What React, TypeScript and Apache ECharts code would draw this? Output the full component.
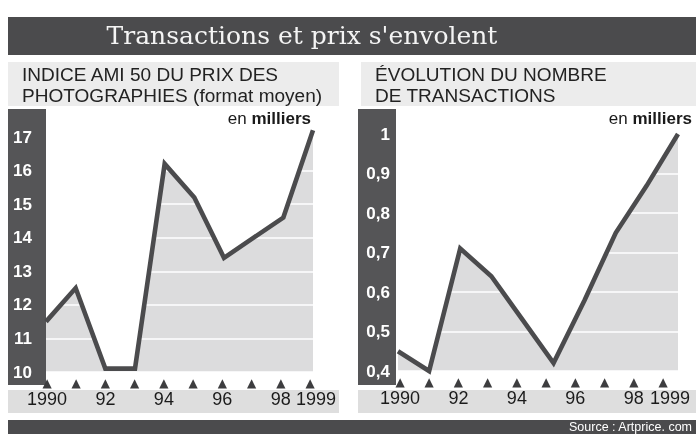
import React, { useEffect, useRef } from "react";
import * as echarts from "echarts";

const years = ["1990", "1991", "1992", "1993", "1994", "1995", "1996", "1997", "1998", "1999"];
const yearLabels = ["1990", "", "92", "", "94", "", "96", "", "98", "1999"];
const indexValues = [11.5, 12.5, 10.1, 10.1, 16.2, 15.2, 13.4, 14.0, 14.6, 17.2];
const transactionValues = [0.45, 0.4, 0.71, 0.64, 0.53, 0.42, 0.58, 0.75, 0.87, 1.0];
const indexAxis = { min: 10, max: 17, interval: 1 };
const transAxis = { min: 0.4, max: 1, interval: 0.1 };

const title = "Transactions et prix s'envolent";
const leftHeading = ["INDICE AMI 50 DU PRIX DES", "PHOTOGRAPHIES (format moyen)"];
const rightHeading = ["ÉVOLUTION DU NOMBRE", "DE TRANSACTIONS"];
const unitText = ["en ", "milliers"];
const sourceText = "Source : Artprice. com";

const DARK = "#4b4b4d";
const STRIP = "#555557";
const FILL = "#dcdcdd";

export default function App() {
  const ref = useRef<HTMLDivElement>(null);
  useEffect(() => {
    document.body.style.margin = "0";
    const chart = echarts.init(ref.current!, null, { renderer: "svg" });

    const xLabelAxis = (grid: number, shift: number) => ({
      type: "category",
      gridIndex: grid,
      data: years,
      boundaryGap: false,
      z: 3,
      axisLine: { show: false },
      axisTick: { show: false },
      splitLine: { show: false },
      axisLabel: {
        interval: 0,
        margin: 5,
        hideOverlap: false,
        formatter: (_v: string, i: number) =>
          `{t|▲}\n{${i === years.length - 1 ? "z" : "y"}|${yearLabels[i] || " "}}`,
        rich: {
          t: { fontFamily: "DejaVu Sans", fontSize: 12, lineHeight: 11, color: "#3d3d3f" },
          y: { fontFamily: "Liberation Sans", fontSize: 18, lineHeight: 22, color: "#1b1b1b" },
          z: {
            fontFamily: "Liberation Sans",
            fontSize: 18,
            lineHeight: 22,
            color: "#1b1b1b",
            padding: [0, 0, 0, shift],
          },
        },
      },
    });
    const hiddenX = (grid: number) => ({
      type: "category",
      gridIndex: grid,
      data: years,
      boundaryGap: false,
      show: false,
    });
    const valueY = (grid: number, ax: any, margin: number, fmt: (v: number) => string) => ({
      type: "value",
      gridIndex: grid,
      min: ax.min,
      max: ax.max,
      interval: ax.interval,
      z: 3,
      axisLine: { show: false },
      axisTick: { show: false },
      splitLine: { show: true, lineStyle: { color: "#ffffff", width: 1.6 } },
      axisLabel: {
        margin,
        color: "#ffffff",
        fontFamily: "Liberation Sans",
        fontWeight: "bold",
        fontSize: 17,
        formatter: fmt,
      },
    });
    const hiddenY = (grid: number, ax: any) => ({
      type: "value",
      gridIndex: grid,
      min: ax.min,
      max: ax.max,
      interval: ax.interval,
      show: false,
      splitLine: { show: false },
    });
    const areaSeries = (idx: number, data: number[]) => ({
      type: "line",
      xAxisIndex: idx,
      yAxisIndex: idx,
      data,
      symbol: "none",
      clip: false,
      z: 2,
      lineStyle: { width: 0 },
      areaStyle: { color: FILL, opacity: 1, origin: "start" },
      silent: true,
    });
    const lineSeries = (idx: number, data: number[]) => ({
      type: "line",
      xAxisIndex: idx,
      yAxisIndex: idx,
      data,
      symbol: "none",
      clip: false,
      z: 5,
      lineStyle: { color: DARK, width: 4.6, join: "miter", cap: "butt" },
      silent: true,
    });

    const rect = (x: number, y: number, w: number, h: number, fill: string) => ({
      type: "rect",
      z: 0,
      silent: true,
      shape: { x, y, width: w, height: h },
      style: { fill },
    });
    const txt = (x: number, y: number, text: string, style: any, extra: any = {}) => ({
      type: "text",
      z: 1,
      x,
      y,
      silent: true,
      ...extra,
      style: { text, verticalAlign: "middle", ...style },
    });
    const headingStyle = {
      fontFamily: "Liberation Sans",
      fontSize: 18.5,
      lineHeight: 21.5,
      fill: "#222222",
      align: "left",
    };
    const unit = (x: number, y: number) => ({
      type: "text",
      z: 1,
      x,
      y,
      silent: true,
      style: {
        text: `{a|${unitText[0]}}{b|${unitText[1]}}`,
        align: "right",
        verticalAlign: "middle",
        rich: {
          a: { fontFamily: "Liberation Sans", fontSize: 17, fill: "#1a1a1a", color: "#1a1a1a" },
          b: { fontFamily: "Liberation Sans", fontSize: 17, fontWeight: "bold", fill: "#1a1a1a", color: "#1a1a1a" },
        },
      },
    });

    chart.setOption({
      animation: false,
      grid: [
        { left: 46, top: 137, width: 267, height: 235 },
        { left: 47, top: 137, width: 263, height: 235 },
        { left: 398, top: 134, width: 280, height: 237 },
        { left: 400, top: 134, width: 263, height: 237 },
      ],
      xAxis: [hiddenX(0), xLabelAxis(1, 12), hiddenX(2), xLabelAxis(3, 14)],
      yAxis: [
        valueY(0, indexAxis, 14, (v: number) => String(v)),
        hiddenY(1, indexAxis),
        valueY(2, transAxis, 8, (v: number) => String(+v.toFixed(1)).replace(".", ",")),
        hiddenY(3, transAxis),
      ],
      series: [
        areaSeries(0, indexValues),
        lineSeries(0, indexValues),
        areaSeries(2, transactionValues),
        lineSeries(2, transactionValues),
      ],
      graphic: {
        elements: [
          rect(8, 17, 688, 38, DARK),
          rect(8, 62, 331, 44, "#ececec"),
          rect(361, 62, 335, 44, "#ececec"),
          rect(8, 109, 38, 276, STRIP),
          rect(358, 109, 38, 276, STRIP),
          rect(8, 390, 331, 23, "#dedede"),
          rect(358, 390, 338, 23, "#dedede"),
          rect(8, 420, 688, 14, DARK),
          txt(302, 35, title, { fontFamily: "DejaVu Serif", fontSize: 25, fill: "#f4f4f4", align: "center" }),
          txt(22, 85.25, leftHeading.join("\n"), headingStyle, { scaleX: 1.03 }),
          txt(375, 85.25, rightHeading.join("\n"), headingStyle, { scaleX: 1.03 }),
          unit(311, 118.5),
          unit(692, 118.5),
          txt(692, 427, sourceText, { fontFamily: "Liberation Sans", fontSize: 12.5, fill: "#ffffff", align: "right" }),
        ],
      },
    });
    return () => chart.dispose();
  }, []);
  return <div ref={ref} style={{ position: "fixed", left: 0, top: 0, width: 696, height: 434 }} />;
}
